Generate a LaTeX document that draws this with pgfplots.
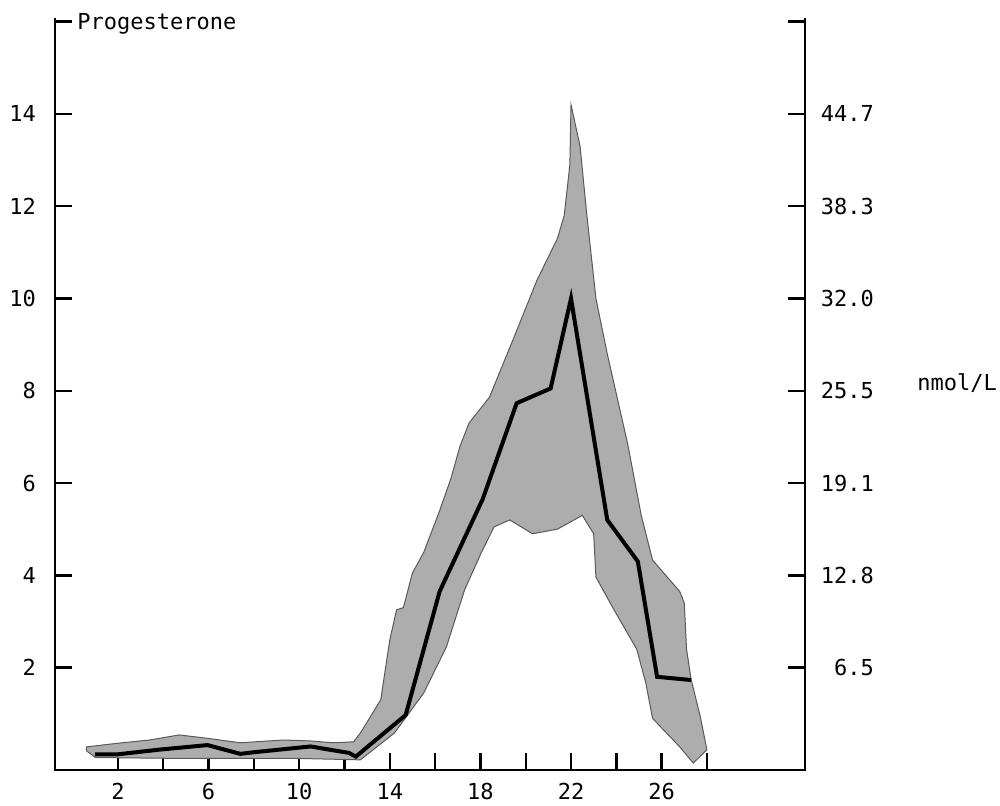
\documentclass[border=0pt]{standalone}
\usepackage{pgfplots}
\pgfplotsset{compat=1.18}
\usepackage{fontspec}
\setmainfont{DejaVu Sans Mono}
\begin{document}
\begin{tikzpicture}
\useasboundingbox (0,0) rectangle (500pt,403pt);
\pgfplotsset{
 common/.style={
  width=375pt, height=376pt, scale only axis,
  xmin=-0.78, xmax=32.33, ymin=-0.22, ymax=16.08,
  at={(27.5pt,18pt)}, anchor=south west,
  tick align=inside,
  major tick length=8.5pt,
  major tick style={black, line width=1.2pt},
  axis line style={draw=none},
  tick label style={font=\fontsize{11}{13}\selectfont},
  clip=false,
 }
}
\begin{axis}[common,
  xtick pos=bottom, ytick pos=left,
  xtick={2,4,...,28},
  xticklabels={2,{},6,{},10,{},14,{},18,{},22,{},26,{}},
  ytick={2,4,...,16},
  yticklabels={2,4,6,8,10,12,14,{}},
  yticklabel style={xshift=-6pt},
  xticklabel style={yshift=-3pt},
]
\addplot[fill=black!32, draw=black!65, line width=0.5pt] coordinates {
(0.6,0.28) (2,0.36) (3.4,0.43) (4.7,0.54) (5.9,0.47) (7.4,0.37) (9.3,0.43) (10.5,0.41) (11.5,0.37) (12.4,0.39)
(12.7,0.58) (13.6,1.3) (14.0,2.6) (14.3,3.25) (14.6,3.3) (15.0,4.05) (15.5,4.5) (16.2,5.4) (16.7,6.1) (17.1,6.8)
(17.5,7.3) (18.4,7.86) (19.6,9.3) (20.5,10.4) (21.4,11.3) (21.7,11.8) (21.95,12.9) (22.0,14.2) (22.4,13.3)
(22.7,11.8) (23.1,10.0) (23.6,8.8) (24.5,6.85) (25.1,5.3) (25.6,4.33) (26.8,3.65) (27.0,3.4) (27.1,2.4)
(27.3,1.75) (27.7,0.95) (28.0,0.22) (27.4,-0.07)
(26.8,0.28) (25.6,0.9) (25.3,1.67) (24.9,2.4) (23.9,3.25) (23.1,3.96) (23.0,4.9) (22.5,5.3) (21.4,5.0)
(20.3,4.9) (19.3,5.2) (18.6,5.05) (18.0,4.45) (17.3,3.68) (16.5,2.45) (15.5,1.45) (14.2,0.58) (12.7,0.0)
(10,0.03) (5,0.03) (1,0.05) (0.6,0.2)
} -- cycle;
\addplot[black, line width=2pt] coordinates {
(0.98,0.12) (2.0,0.12) (3.8,0.22) (5.95,0.32) (7.4,0.13) (8.1,0.17) (10.5,0.29) (12.2,0.15) (12.5,0.07)
(14.7,0.97) (16.2,3.65) (18.1,5.65) (19.6,7.73) (21.1,8.05) (22.0,10.0) (23.6,5.2) (24.95,4.3) (25.8,1.8) (27.3,1.73)
};
\draw[black, line width=1.3pt] (rel axis cs:0,1) -- (rel axis cs:0,0) -- (rel axis cs:1,0) -- (rel axis cs:1,1);
\end{axis}
\begin{axis}[common,
  xtick=\empty, ytick pos=right,
  ytick={2,4,...,16},
  yticklabels={6.5,12.8,19.1,25.5,32.0,38.3,44.7,{}},
  yticklabel style={anchor=east, xshift=38pt},
]
\end{axis}
\node[anchor=west, inner sep=0, font=\fontsize{11}{13}\selectfont] at (458.5pt,211.5pt) {nmol/L};
\node[anchor=base west, inner sep=0, font=\fontsize{11}{13}\selectfont] at (38.5pt,388pt) {Progesterone};
\end{tikzpicture}
\end{document}
